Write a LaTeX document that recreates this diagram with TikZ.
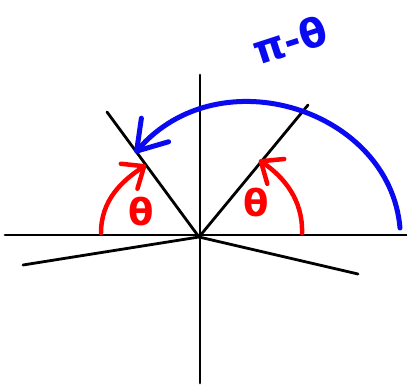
\documentclass[tikz,border=0pt]{standalone}
\usepackage{fontspec}
\setmainfont{DejaVu Sans}
\usetikzlibrary{arrows.meta}
\definecolor{penred}{RGB}{255,0,0}
\definecolor{penblue}{RGB}{10,10,240}
\begin{document}
\begin{tikzpicture}[x=1pt,y=-1pt,
  axisline/.style={black,line width=2.8pt,line cap=round},
  redarc/.style={penred,line width=4.5pt,line cap=round,
    -{Straight Barb[length=18pt,width=30pt,line width=4.5pt,round]}},
  bluearc/.style={penblue,line width=5pt,line cap=round,
    -{Straight Barb[length=28pt,width=36pt,line width=5pt,round]}},
  redlabel/.style={text=penred,font=\bfseries\fontsize{37}{37}\selectfont,inner sep=0pt},
  bluelabel/.style={text=penblue,font=\bfseries\fontsize{40}{40}\selectfont,inner sep=0pt}]
\useasboundingbox (0,0) rectangle (407,385);
% named points
\coordinate (O) at (199,237);
\coordinate (xl) at (5,235);
\coordinate (xr) at (407,235);
\coordinate (yt) at (200,75);
\coordinate (yb) at (200,383);
\coordinate (ur) at (308,105);
\coordinate (ul) at (107,112);
\coordinate (ll) at (23,265);
\coordinate (lr) at (358,274);
\coordinate (rs) at (302,233);
\coordinate (re) at (259,160);
\coordinate (ls) at (101,233);
\coordinate (le) at (146,165);
\coordinate (bs) at (400,228);
\coordinate (be) at (135,153);
% axes and rays
\draw[axisline] (xl) -- (xr);
\draw[axisline] (yt) -- (yb);
\draw[axisline] (O) -- (ur);
\draw[axisline] (O) -- (ul);
\draw[axisline] (O) -- (ll);
\draw[axisline] (O) -- (lr);
% arcs
\draw[redarc] (rs) .. controls (303,200) and (284,177) .. (re);
\draw[redarc] (ls) .. controls (101,200) and (122,181) .. (le);
\draw[bluearc] (bs) .. controls (390,110) and (220,55) .. (be);
% labels
\node[redlabel] (t1) at (256,203) {θ};
\node[redlabel] (t2) at (141,212) {θ};
\node[bluelabel,rotate=18] (pt) at (290,40) {π-θ};
\end{tikzpicture}
\end{document}
